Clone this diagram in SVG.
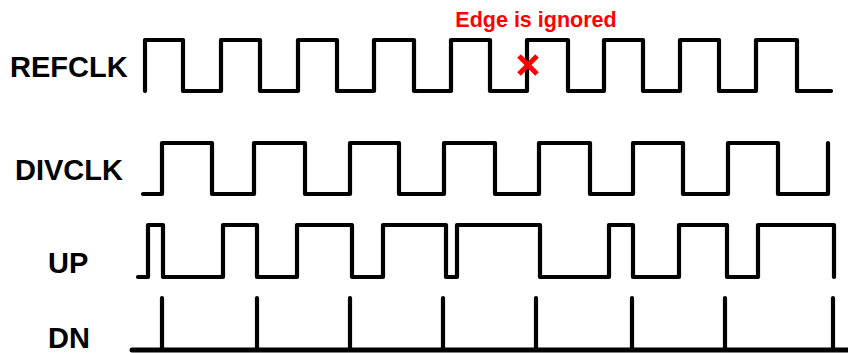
<svg xmlns="http://www.w3.org/2000/svg" width="848" height="353" viewBox="0 0 848 353">
<style>
.lbl{font-family:"Liberation Sans",Arial,sans-serif;font-weight:bold;font-size:29px;fill:#000}
.wave{fill:none;stroke:#000;stroke-width:4.2;stroke-linejoin:round;stroke-linecap:round}
.note{font-family:"Liberation Sans",Arial,sans-serif;font-weight:bold;font-size:21.5px;fill:#FF0000}
</style>
<rect width="848" height="353" fill="#fff"/>
<g id="refclk">
<text class="lbl" x="10" y="77">REFCLK</text>
<path class="wave" d="M145,91 V40 H183 V91 H221 V40 H260 V91 H298 V40 H337 V91 H374 V40 H414 V91 H451 V40 H490 V91 H527 V40 H568 V91 H604 V40 H643 V91 H680 V40 H719 V91 H756 V40 H797 V91 H831"/>
</g>
<g id="ignored">
<text class="note" x="536" y="27" text-anchor="middle">Edge is ignored</text>
<path d="M519,56 L537,74 M537,56 L519,74" stroke="#FF0000" stroke-width="5" fill="none"/>
</g>
<g id="divclk">
<text class="lbl" x="15" y="180">DIVCLK</text>
<path class="wave" d="M143,194 H162 V143 H212 V194 H254 V143 H305 V194 H350 V143 H399 V194 H444 V143 H495 V194 H539 V143 H590 V194 H633 V143 H683 V194 H728 V143 H778 V194 H828 V143"/>
</g>
<g id="up">
<text class="lbl" x="48" y="273">UP</text>
<path class="wave" d="M138,277 H148 V225 H163 V277 H223 V225 H257 V277 H297 V225 H352 V277 H383 V225 H446 V277 H457 V225 H540 V277 H609 V225 H633 V277 H679 V225 H727 V277 H758 V225 H834 V277"/>
</g>
<g id="dn">
<text class="lbl" x="48" y="348">DN</text>
<path class="wave" d="M162,298 V350 M257,298 V350 M350,298 V350 M443,298 V350 M536,298 V350 M632,298 V350 M725,298 V350 M833,298 V350"/>
<path d="M132,350 H848" stroke="#000" stroke-width="5" stroke-linecap="round" fill="none"/>
</g>
</svg>
